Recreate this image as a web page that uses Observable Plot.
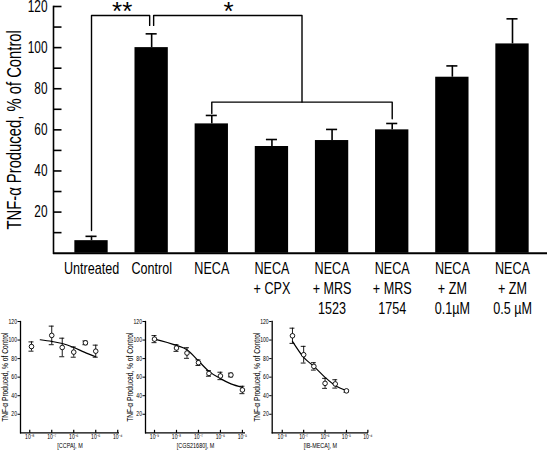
<!DOCTYPE html>
<html><head><meta charset="utf-8">
<script src="https://cdn.jsdelivr.net/npm/d3@7"></script>
<script src="https://cdn.jsdelivr.net/npm/@observablehq/plot@0.6"></script>
<style>
body{margin:0;background:#fff;}
#wrap{position:relative;width:549px;height:452px;overflow:hidden;background:#fff;}
#wrap svg{position:absolute;}
</style></head><body><div id="wrap"></div>
<script>
// ---- main chart data ----
const categories = ["Untreated","Control","NECA","NECA\n+ CPX","NECA\n+ MRS\n1523","NECA\n+ MRS\n1754","NECA\n+ ZM\n0.1µM","NECA\n+ ZM\n0.5 µM"];
const tnfMeans = [6.1,100,62.9,51.9,54.8,60,85.6,101.8];
const tnfSem = [2.1,6.7,4.1,3.4,5.4,3.1,5.5,12.2];
const yTicksMinor = [10,30,50,70,90,110];
const yTicksMajor = [20,40,60,80,100,120];
// significance brackets (category index, % of control)
const bracketAx = [0,0,0.967,0.967], bracketAy = [11,115.6,115.6,110.8];
const bracketBx = [1.033,1.033,3.5,3.5], bracketBy = [110.8,115.6,115.6,73.5];
const bracketCx = [2,2,5,5], bracketCy = [68,73.5,73.5,65.4];
const sigText = ["**","*"], sigX = [0.51,2.28], sigY = [122.6,122.6];

// ---- inset dose-response data ----
const ccpaConc = [1.2e-8,1e-7,3e-7,1e-6,3.4e-6,1e-5];
const ccpaMean = [93,105,92,87,97,88];
const ccpaSem = [5,10,10,5.5,2,6.5];
const ccpaFitConc = [3e-8,1e-7,3e-7,1e-6,3e-6,1e-5];
const ccpaFit = [100.3,98.5,96.3,92,87,82];

const cgsConc = [1e-9,1e-8,3e-8,1e-7,3e-7,1e-6,3e-6,1e-5];
const cgsMean = [101,91.4,86,75.6,64,61.3,62.3,46.2];
const cgsSem = [3.8,3.6,5.7,3,3,4,2,4];
const cgsFitConc = [1e-9,1e-8,3e-8,1e-7,3e-7,1e-6,3e-6,1e-5];
const cgsFit = [101,94.2,89.6,77.5,66.2,58.4,52.7,49];

const ibConc = [3e-8,1e-7,3e-7,1e-6,3e-6,1e-5];
const ibMean = [104.6,84.2,71.6,53.3,52.7,45.2];
const ibSem = [8.2,9,4,5.4,4.5,1.5];
const ibFitConc = [3e-8,1e-7,3e-7,1e-6,3e-6,1e-5];
const ibFit = [98.5,81.3,71.6,59.8,50.9,45.5];

const smallYTicks = [20,40,60,80,100,120];
const ccpaTicks = [1e-8,1e-7,1e-6,1e-5,1e-4];
const cgsTicks = [1e-9,1e-8,1e-7,1e-6,1e-5];
const ibTicks = [1e-8,1e-7,1e-6,1e-5,1e-4];

const FONT = '"Liberation Sans",Arial,sans-serif';
const yTitle = "TNF-α Produced, % of Control";

const wrap = document.getElementById("wrap");

const mainData = categories.map((c,i)=>({i, c, mean: tnfMeans[i], top: tnfMeans[i]+tnfSem[i]}));
const pts = (xs,ys)=>xs.map((x,k)=>({x, y: ys[k]}));
const hw = 0.277, cap = 0.092;

// tick glyphs (pixel length)
const tickRight = len => ({draw(ctx){ctx.moveTo(0,0); ctx.lineTo(len,0);}});
const tickUp = len => ({draw(ctx){ctx.moveTo(0,0); ctx.lineTo(0,-len);}});

// condense text horizontally to mimic a condensed typeface
function condense(svg, f) {
  svg.querySelectorAll("text").forEach(t => {
    if (/^\*+$/.test(t.textContent.trim())) return;
    const spans = t.querySelectorAll("tspan");
    const targets = spans.length ? Array.from(spans) : [t];
    targets.forEach(el => {
      const L = el.getComputedTextLength();
      if (L > 0) { el.setAttribute("textLength", (L*f).toFixed(2)); el.setAttribute("lengthAdjust","spacingAndGlyphs"); }
    });
  });
}

const main = Plot.plot({
  width:549, height:315, marginTop:6, marginBottom:62.3, marginLeft:53, marginRight:2,
  style:{background:"transparent", fontFamily:FONT, color:"#000", overflow:"visible"},
  x:{type:"linear", domain:[-0.632,7.582]},
  y:{domain:[0,120]},
  marks:[
    Plot.rectY(mainData,{x1:d=>d.i-hw, x2:d=>d.i+hw, y:"mean", fill:"#000"}),
    Plot.ruleX(mainData,{x:"i", y1:"mean", y2:"top", stroke:"#000", strokeWidth:1.6}),
    Plot.ruleY(mainData,{y:"top", x1:d=>d.i-cap, x2:d=>d.i+cap, stroke:"#000", strokeWidth:1.6}),
    Plot.line(pts(bracketAx,bracketAy),{x:"x", y:"y", stroke:"#000", strokeWidth:1.4}),
    Plot.line(pts(bracketBx,bracketBy),{x:"x", y:"y", stroke:"#000", strokeWidth:1.4}),
    Plot.line(pts(bracketCx,bracketCy),{x:"x", y:"y", stroke:"#000", strokeWidth:1.4}),
    Plot.text(sigText,{x:(d,k)=>sigX[k], y:(d,k)=>sigY[k], text:d=>d, fontSize:26, fontFamily:FONT, lineAnchor:"top"}),
    Plot.frame({anchor:"left", strokeWidth:1.6}),
    Plot.ruleY([0],{strokeWidth:2}),
    Plot.dot(yTicksMinor.concat(yTicksMajor),{y:d=>d, frameAnchor:"left", symbol:tickRight(8), stroke:"#000", strokeWidth:1.6, fill:"none"}),
    Plot.axisY({ticks:yTicksMajor, tickSize:0, tickPadding:6, fontSize:16, label:null}),
    Plot.axisX({ticks:d3.range(categories.length), tickFormat:i=>categories[i], tickSize:0, tickPadding:7, fontSize:17, lineHeight:1.17, label:null}),
    Plot.text([yTitle],{frameAnchor:"left", dx:-39, rotate:-90, fontSize:20, textAnchor:"middle"})
  ]
});
main.style.left="0px"; main.style.top="0px";
wrap.appendChild(main);
condense(main, 0.74);

const sup = {"-":"⁻","0":"⁰","1":"¹","2":"²","3":"³","4":"⁴","5":"⁵","6":"⁶","7":"⁷","8":"⁸","9":"⁹"};
const pow = v => "10" + String(Math.round(Math.log10(v))).split("").map(ch=>sup[ch]).join("");

function small({conc, mean, sem, fitConc, fit, ticks, domain, xlabel, left, width, marginLeft, marginRight}) {
  const data = conc.map((x,k)=>({x, y:mean[k], lo:mean[k]-sem[k], hi:mean[k]+sem[k]}));
  const capF = 1.3;
  const p = Plot.plot({
    width, height:137, marginTop:6, marginBottom:19.7, marginLeft, marginRight,
    style:{background:"transparent", fontFamily:FONT, color:"#000", overflow:"visible"},
    x:{type:"log", domain},
    y:{domain:[0,120]},
    marks:[
      Plot.line(pts(fitConc,fit),{x:"x", y:"y", curve:"monotone-x", stroke:"#000", strokeWidth:1.2}),
      Plot.ruleX(data,{x:"x", y1:"lo", y2:"hi", stroke:"#000", strokeWidth:0.9}),
      Plot.ruleY(data,{y:"hi", x1:d=>d.x/capF, x2:d=>d.x*capF, stroke:"#000", strokeWidth:0.9}),
      Plot.ruleY(data,{y:"lo", x1:d=>d.x/capF, x2:d=>d.x*capF, stroke:"#000", strokeWidth:0.9}),
      Plot.dot(data,{x:"x", y:"y", r:2.3, fill:"#fff", stroke:"#000", strokeWidth:0.9}),
      Plot.frame({anchor:"left", strokeWidth:1.3}),
      Plot.ruleY([0],{strokeWidth:1.3}),
      Plot.axisY({ticks:smallYTicks, tickSize:2.5, tickPadding:1, fontSize:6.5, label:null}),
      Plot.dot(ticks,{x:d=>d, frameAnchor:"bottom", symbol:tickUp(3), stroke:"#000", strokeWidth:1.2, fill:"none"}),
      Plot.axisX({ticks, tickSize:0, tickPadding:2, fontSize:6.5, tickFormat:pow, label:null}),
      Plot.text([xlabel],{frameAnchor:"bottom", dy:15, fontSize:7}),
      Plot.text([yTitle],{frameAnchor:"left", dx:-15, rotate:-90, fontSize:8.5, textAnchor:"middle"})
    ]
  });
  p.style.left = left+"px"; p.style.top = "315px";
  wrap.appendChild(p);
  condense(p, 0.78);
}

small({conc:ccpaConc, mean:ccpaMean, sem:ccpaSem, fitConc:ccpaFitConc, fit:ccpaFit, ticks:ccpaTicks,
  domain:[Math.pow(10,-8.42), Math.pow(10,-3.92)], xlabel:"[CCPA], M", left:0, width:130, marginLeft:20, marginRight:11});
small({conc:cgsConc, mean:cgsMean, sem:cgsSem, fitConc:cgsFitConc, fit:cgsFit, ticks:cgsTicks,
  domain:[Math.pow(10,-9.41), Math.pow(10,-4.86)], xlabel:"[CGS21680], M", left:125, width:130, marginLeft:20, marginRight:10});
small({conc:ibConc, mean:ibMean, sem:ibSem, fitConc:ibFitConc, fit:ibFit, ticks:ibTicks,
  domain:[Math.pow(10,-8.47), Math.pow(10,-3.97)], xlabel:"[IB-MECA], M", left:251, width:130, marginLeft:20.7, marginRight:13});
</script>
</body></html>
